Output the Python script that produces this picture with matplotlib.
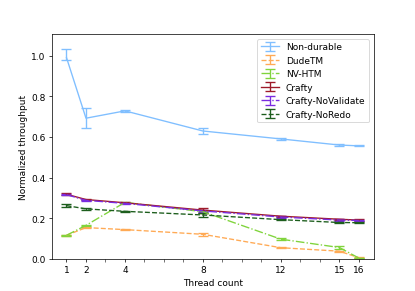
import matplotlib
matplotlib.use("Agg")
import matplotlib.pyplot as plt
import numpy as np

threads = [1, 2, 4, 8, 12, 15, 16]
xticks = [1, 2, 4, 8, 12, 15, 16]

series_names = ["Non-durable", "DudeTM", "NV-HTM", "Crafty", "Crafty-NoValidate", "Crafty-NoRedo"]

nondurable = [0.99, 0.692, 0.728, 0.629, 0.590, 0.560, 0.556]
nondurable_lo = [0.012, 0.05, 0.004, 0.014, 0.004, 0.003, 0.003]
nondurable_hi = [0.040, 0.05, 0.004, 0.017, 0.004, 0.003, 0.003]

dudetm = [0.116, 0.154, 0.144, 0.121, 0.055, 0.038, 0.006]
dudetm_err = [0.003, 0.004, 0.003, 0.006, 0.003, 0.003, 0.002]

nvhtm = [0.116, 0.165, 0.278, 0.232, 0.097, 0.056, 0.004]
nvhtm_err = [0.003, 0.004, 0.004, 0.006, 0.004, 0.005, 0.002]

crafty = [0.318, 0.292, 0.276, 0.240, 0.210, 0.195, 0.191]
crafty_err = [0.004, 0.004, 0.003, 0.012, 0.003, 0.003, 0.003]

crafty_noval = [0.316, 0.288, 0.273, 0.236, 0.206, 0.191, 0.189]
crafty_noval_err = [0.004, 0.004, 0.003, 0.004, 0.003, 0.003, 0.003]

crafty_noredo = [0.262, 0.246, 0.234, 0.216, 0.193, 0.179, 0.178]
crafty_noredo_err = [0.006, 0.006, 0.003, 0.008, 0.004, 0.004, 0.003]

colors = ["#80bfff", "#ffaa55", "#80d43c", "#9e1a2a", "#7a2be0", "#1d5e1d"]
styles = ["-", "--", "-.", "-", "-.", "--"]

fig = plt.figure(figsize=(6.4, 4.5), dpi=415 / 6.4)
ax = fig.add_subplot(111)
fig.subplots_adjust(left=0.125, right=0.9, bottom=0.11, top=0.88)

data = [
    (nondurable, [nondurable_lo, nondurable_hi]),
    (dudetm, dudetm_err),
    (nvhtm, nvhtm_err),
    (crafty, crafty_err),
    (crafty_noval, crafty_noval_err),
    (crafty_noredo, crafty_noredo_err),
]
for (vals, err), name, c, ls in zip(data, series_names, colors, styles):
    ax.errorbar(threads, vals, yerr=err, label=name, color=c, linestyle=ls,
                linewidth=1.5, capsize=5, elinewidth=1.5, capthick=1.5)

ax.set_xlim(0.25, 16.75)
ax.set_ylim(0, 1.105)
ax.set_xticks(xticks)
ax.set_xticks(range(1, 17), minor=True)
ax.tick_params(axis='x', which='minor', length=3.5)
ax.set_yticks([0.0, 0.2, 0.4, 0.6, 0.8, 1.0])
ax.set_xlabel("Thread count")
ax.set_ylabel("Normalized throughput")
ax.legend(loc="upper right")

fig.savefig("out.png", dpi=415 / 6.4)
